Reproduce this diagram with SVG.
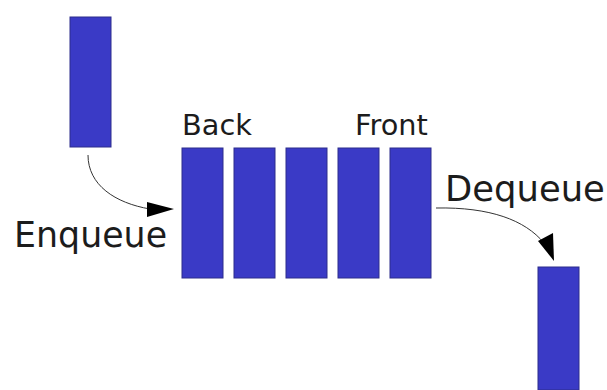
<svg xmlns="http://www.w3.org/2000/svg" width="607" height="390" viewBox="0 0 607 390">
<style>
.b{fill:#3a3ac6;stroke:#2c2c8c;stroke-width:1}
.t{font-family:"DejaVu Sans",sans-serif;fill:#1c1c1c}
.c{fill:none;stroke:#333;stroke-width:1}
</style>
<rect width="607" height="390" fill="#fff"/>
<g id="connectors">
<path class="c" d="M88 155C88 185 115 203 150 209"/>
<polygon points="147,202 174,209 147,217" fill="#000"/>
<path class="c" d="M436 208C490 207 525 220 544 243"/>
<polygon points="538,241 553,233 554,261" fill="#000"/>
</g>
<g id="enqueue-item"><rect class="b" x="70" y="17" width="41" height="130"/></g>
<g id="queue-1"><rect class="b" x="182" y="148" width="41" height="130"/></g>
<g id="queue-2"><rect class="b" x="234" y="148" width="41" height="130"/></g>
<g id="queue-3"><rect class="b" x="286" y="148" width="41" height="130"/></g>
<g id="queue-4"><rect class="b" x="338" y="148" width="41" height="130"/></g>
<g id="queue-5"><rect class="b" x="390" y="148" width="41" height="130"/></g>
<g id="dequeue-item"><rect class="b" x="538" y="267" width="41" height="123"/></g>
<g id="labels">
<text class="t" x="182" y="135" font-size="28.8">Back</text>
<text class="t" x="355" y="135" font-size="28.8">Front</text>
<text class="t" x="14" y="247" font-size="34.8">Enqueue</text>
<text class="t" x="445" y="201" font-size="35.4">Dequeue</text>
</g>
</svg>
